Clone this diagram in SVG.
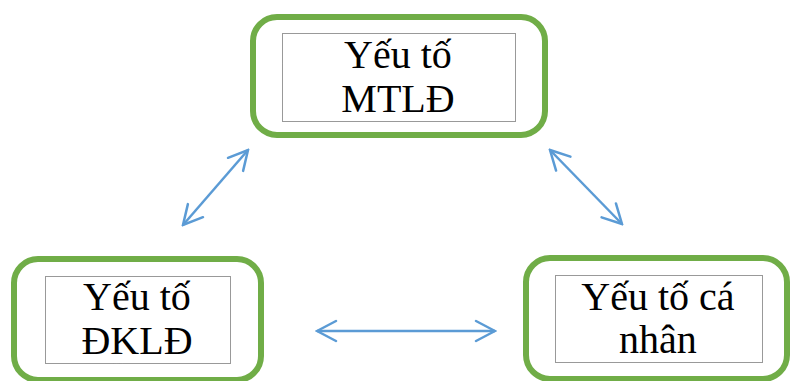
<svg xmlns="http://www.w3.org/2000/svg" width="790" height="381" viewBox="0 0 790 381">
  <style>
    .outer { fill: #ffffff; stroke: #70AD47; stroke-width: 6; }
    .inner { fill: none; stroke: #333333; stroke-width: 1; stroke-dasharray: 1 1; }
    .label { font-family: "Liberation Serif", "Times New Roman", Tinos, serif; font-size: 40px; fill: #000000; text-anchor: middle; }
    .link { fill: none; stroke: #5B9BD5; stroke-width: 2.5; marker-start: url(#chevron); marker-end: url(#chevron); }
  </style>
  <defs>
    <!-- open chevron head used on both ends of every connector -->
    <marker id="chevron" markerUnits="userSpaceOnUse" viewBox="-22 -12 24 24" refX="0" refY="0" markerWidth="24" markerHeight="24" orient="auto-start-reverse">
      <path d="M -19 -10 L 0 0 L -19 10" fill="none" stroke="#5B9BD5" stroke-width="2.5" stroke-linejoin="miter" stroke-linecap="round"/>
    </marker>
  </defs>
  <rect width="790" height="381" fill="#ffffff"/>

  <g id="node-mtld">
    <rect class="outer" x="253" y="17" width="292" height="118" rx="24" ry="24"/>
    <rect class="inner" x="282.5" y="33.5" width="233" height="88"/>
    <text class="label" x="398" y="68">Yếu tố</text>
    <text class="label" x="398" y="112">MTLĐ</text>
  </g>

  <g id="node-dkld">
    <rect class="outer" x="14" y="259" width="247" height="121" rx="24" ry="24"/>
    <rect class="inner" x="45.5" y="276.5" width="185" height="87"/>
    <text class="label" x="137" y="310">Yếu tố</text>
    <text class="label" x="137" y="354">ĐKLĐ</text>
  </g>

  <g id="node-canhan">
    <rect class="outer" x="526" y="258" width="261" height="121" rx="24" ry="24"/>
    <rect class="inner" x="555.5" y="275.5" width="207" height="87"/>
    <text class="label" x="658" y="310">Yếu tố cá</text>
    <text class="label" x="658" y="353">nhân</text>
  </g>

  <g id="connectors">
    <line class="link" x1="183" y1="225" x2="248" y2="150"/>
    <line class="link" x1="550" y1="150" x2="622" y2="224"/>
    <line class="link" x1="317" y1="331" x2="495" y2="331"/>
  </g>
</svg>
